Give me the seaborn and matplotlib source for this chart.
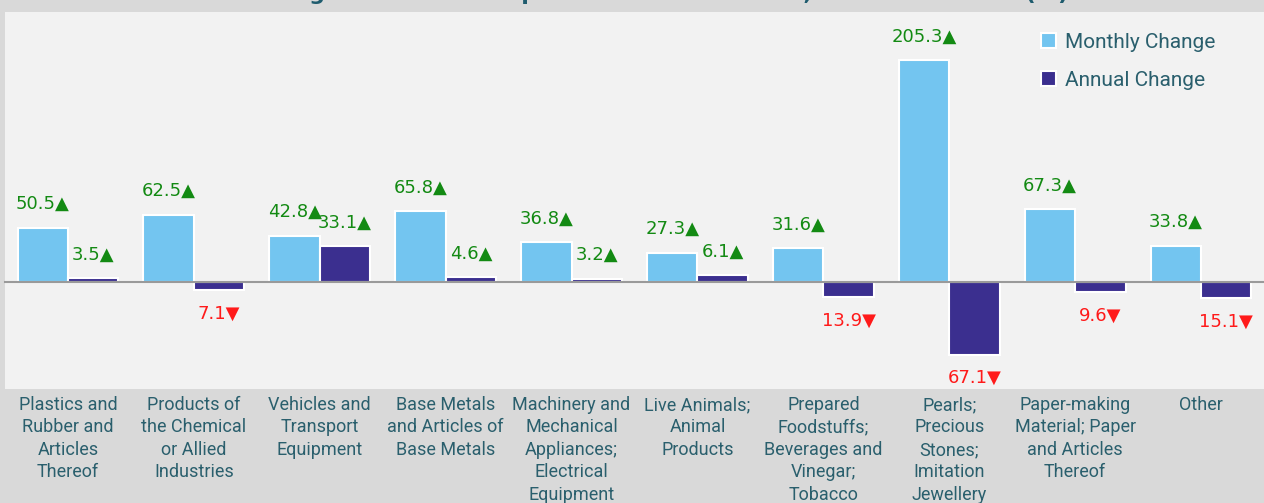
import matplotlib
matplotlib.use("Agg")
import matplotlib.pyplot as plt
import seaborn as sns
import pandas as pd
from matplotlib.patches import Patch
from matplotlib import font_manager

categories = [
    "Plastics and\nRubber and\nArticles\nThereof",
    "Products of\nthe Chemical\nor Allied\nIndustries",
    "Vehicles and\nTransport\nEquipment",
    "Base Metals\nand Articles of\nBase Metals",
    "Machinery and\nMechanical\nAppliances;\nElectrical\nEquipment",
    "Live Animals;\nAnimal\nProducts",
    "Prepared\nFoodstuffs;\nBeverages and\nVinegar;\nTobacco",
    "Pearls;\nPrecious\nStones;\nImitation\nJewellery",
    "Paper-making\nMaterial; Paper\nand Articles\nThereof",
    "Other",
]
monthly = [50.5, 62.5, 42.8, 65.8, 36.8, 27.3, 31.6, 205.3, 67.3, 33.8]
annual = [3.5, -7.1, 33.1, 4.6, 3.2, 6.1, -13.9, -67.1, -9.6, -15.1]
series_names = ["Monthly Change", "Annual Change"]
title = "Changes in Non-oil Imports of Main Sections, November 2024 (%)"

colors = ["#73C5F0", "#3B2F8F"]
teal = "#2A5F6D"

avail = {f.name for f in font_manager.fontManager.ttflist}
label_font = "Liberation Sans Narrow" if "Liberation Sans Narrow" in avail else "Roboto"

df = pd.DataFrame({
    "category": categories * 2,
    "value": monthly + annual,
    "series": [series_names[0]] * len(categories) + [series_names[1]] * len(categories),
})

sns.set_theme(style="white")
plt.rcParams["font.family"] = ["DejaVu Sans"]

fig = plt.figure(figsize=(12.64, 5.03), dpi=100)
fig.patch.set_facecolor("#D9D9D9")
ax = fig.add_axes([5 / 1264, 1 - 389 / 503, 1 - 5 / 1264, (389 - 12) / 503])
ax.set_facecolor("#F2F2F2")

sns.barplot(data=df, x="category", y="value", hue="series", palette=colors,
            width=0.8, edgecolor="white", linewidth=1.5, ax=ax, legend=False,
            saturation=1)

ax.set_ylim(-99, 250)
ax.set_xlim(-0.5, len(categories) - 0.5)
ax.set_xlabel("")
ax.set_ylabel("")
ax.set_yticks([])

for s in ["top", "right", "left"]:
    ax.spines[s].set_visible(False)
ax.spines["bottom"].set_position(("data", 0))
ax.spines["bottom"].set_color("#9A9A9A")
ax.spines["bottom"].set_linewidth(1.5)
ax.set_xticks([i - 0.5 for i in range(len(categories) + 1)], minor=True)
ax.tick_params(axis="x", which="minor", length=6, width=1.2, color="#9A9A9A", direction="out")
ax.tick_params(axis="x", which="major", length=0, pad=82)
ax.set_xticks(range(len(categories)))
ax.set_xticklabels(categories, fontsize=13, color=teal, family=label_font,
                   linespacing=1.32, va="top")

for container in ax.containers:
    for patch in container:
        xc = patch.get_x() + patch.get_width() / 2
        top = max(patch.get_y(), patch.get_y() + patch.get_height())
        bot = min(patch.get_y(), patch.get_y() + patch.get_height())
        if top > 0:
            ax.annotate(f"{abs(top):.1f}\u25B2", (xc, top), xytext=(0, 17),
                        textcoords="offset points", ha="center", va="center",
                        color="#138A13", fontsize=13)
        else:
            ax.annotate(f"{abs(bot):.1f}\u25BC", (xc, bot), xytext=(0, -17),
                        textcoords="offset points", ha="center", va="center",
                        color="#FF1A1A", fontsize=13)

handles = [Patch(facecolor=c, edgecolor="white", linewidth=1.5) for c in colors]
leg = ax.legend(handles, series_names, loc="upper left",
                bbox_to_anchor=((1022 - 5) / 1259, 1 - (14 - 12) / 377),
                frameon=False, handlelength=0.75, handleheight=0.75,
                handletextpad=0.4, labelspacing=0.9,
                prop={"family": label_font, "size": 15})
for t in leg.get_texts():
    t.set_color(teal)

fig.text(0.52, 1.0, title, ha="center", va="baseline", fontsize=16,
         fontweight="bold", color="#1F5C6E")

fig.savefig("out.png", dpi=100, facecolor=fig.get_facecolor())
